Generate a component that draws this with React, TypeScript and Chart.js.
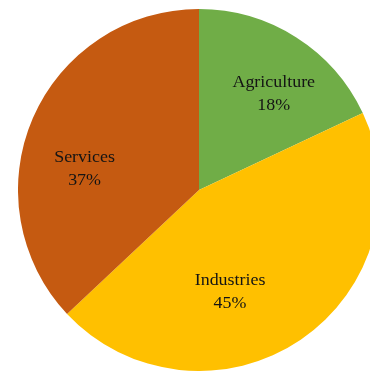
import React, { useEffect, useRef } from "react";
import { Chart, registerables } from "chart.js";

Chart.register(...registerables);

const categories = ["Agriculture", "Industries", "Services"];
const shares = [18, 45, 37];
const colors = ["#70AD47", "#FFC000", "#C55A11"];
// label placement: angle (deg, clockwise from top) and fraction of radius
const labelAngles = [37.4, 162.8, 281.4];
const labelRadii = [0.68, 0.58, 0.645];

const labelPlugin = {
  id: "sliceLabels",
  afterDatasetsDraw(chart: any) {
    const { ctx } = chart;
    const meta = chart.getDatasetMeta(0);
    ctx.save();
    ctx.fillStyle = "#141414";
    ctx.textAlign = "center";
    ctx.textBaseline = "alphabetic";
    ctx.font = "16px 'Liberation Serif', 'Times New Roman', serif";
    meta.data.forEach((arc: any, i: number) => {
      const { x, y, outerRadius } = arc.getProps(["x", "y", "outerRadius"], true);
      const a = (labelAngles[i] * Math.PI) / 180;
      const r = outerRadius * labelRadii[i];
      const cx = x + Math.sin(a) * r;
      const cy = y - Math.cos(a) * r;
      ctx.save();
      ctx.translate(cx, cy);
      ctx.scale(1.12, 1);
      ctx.fillText(categories[i], 0, -5);
      ctx.fillText(shares[i] + "%", 0, 18);
      ctx.restore();
    });
    ctx.restore();
  },
};

export default function App() {
  const ref = useRef<HTMLCanvasElement | null>(null);
  useEffect(() => {
    if (!ref.current) return;
    const chart = new Chart(ref.current, {
      type: "pie",
      data: {
        labels: categories,
        datasets: [
          {
            data: shares,
            backgroundColor: colors,
            borderWidth: 0,
          },
        ],
      },
      options: {
        responsive: false,
        animation: false,
        layout: { padding: 0 },
        plugins: {
          legend: { display: false },
          tooltip: { enabled: false },
        },
      },
      plugins: [labelPlugin],
    });
    return () => chart.destroy();
  }, []);
  return (
    <div
      style={{
        position: "fixed",
        left: 0,
        top: 0,
        width: 370,
        height: 372,
        overflow: "hidden",
        background: "#fff",
      }}
    >
      <canvas
        ref={ref}
        width={362}
        height={362}
        style={{ position: "absolute", left: 18, top: 9, width: 362, height: 362 }}
      />
    </div>
  );
}
